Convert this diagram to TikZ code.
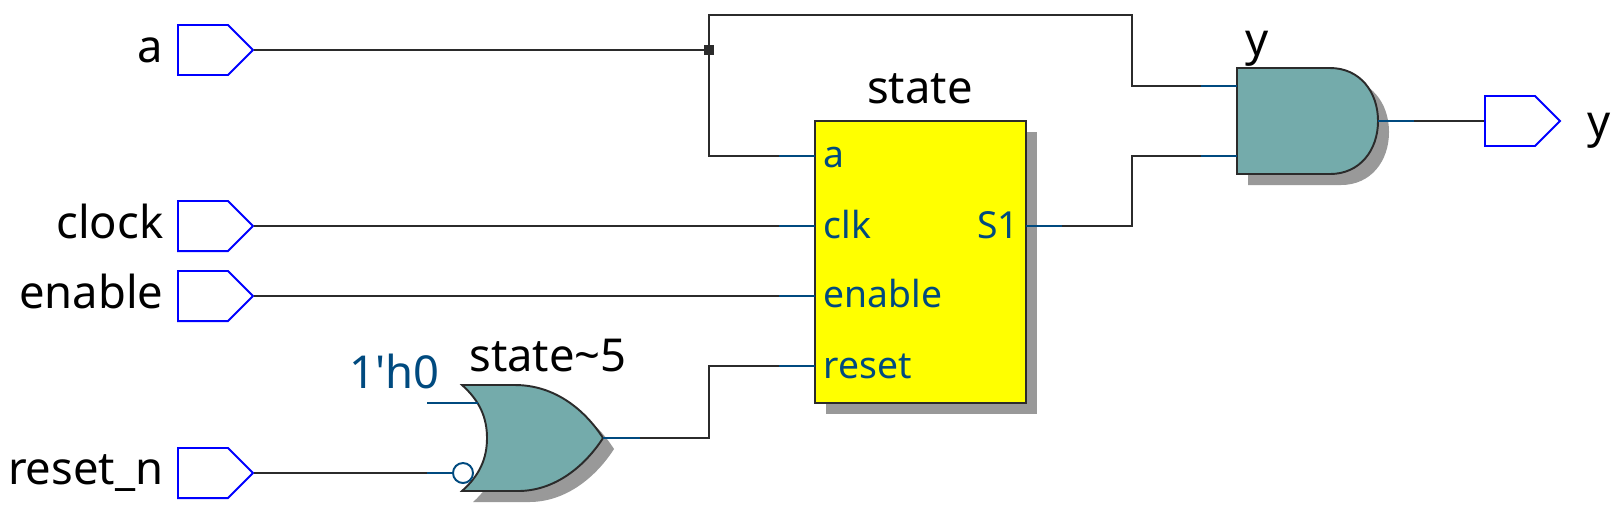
\documentclass[tikz,border=0pt]{standalone}
\usepackage{fontspec}
\setmainfont{Noto Sans}
\usetikzlibrary{shapes.symbols}
\definecolor{gatefill}{HTML}{74ABAB}
\definecolor{stubblue}{HTML}{004A7F}
\definecolor{wiregray}{HTML}{2B2B2B}
\definecolor{shadowgray}{HTML}{999999}
\definecolor{blockyellow}{HTML}{FFFF00}
\definecolor{pinblue}{HTML}{0000FF}
\def\andpath{(1237,68) -- (1330,68) .. controls (1360,68) and (1378,92) .. (1378,121) .. controls (1378,150) and (1360,174) .. (1330,174) -- (1237,174) -- cycle}
\def\orpath{(462,385) -- (515,385) .. controls (555,385) and (585,410) .. (603,438) .. controls (585,466) and (555,491) .. (518,491) -- (462,491) .. controls (480,475) and (487,458) .. (487,438) .. controls (487,418) and (480,401) .. (462,385) -- cycle}
\tikzset{
	pinbox/.style={signal, signal to=east, signal pointer angle=90, draw=pinblue, line width=0.55pt, minimum width=0.75cm, minimum height=0.5cm, inner sep=0pt, anchor=west},
	wire/.style={line width=0.5pt, color=wiregray},
	stub/.style={line width=0.5pt, color=stubblue},
	gate/.style={fill=gatefill, draw=wiregray, line width=0.55pt},
	label/.style={font=\fontsize{12.9}{15}\selectfont, inner sep=0pt},
	portlabel/.style={font=\fontsize{10.6}{13}\selectfont, color=stubblue, inner sep=0pt},
}

\begin{document}
\begin{tikzpicture}[x=0.01cm, y=-0.01cm]
	\useasboundingbox (0,0) rectangle (1619,514);

	%%%%% SHADOWS %%%%%
	\fill[shadowgray] (826,132) rectangle (1037,414);
	\fill[shadowgray, shift={(11,11)}] \andpath;
	\fill[shadowgray, shift={(11,11)}] \orpath;

	%%%%% BLOCKS %%%%%
	\node[draw=wiregray, fill=blockyellow, line width=0.55pt, minimum width=2.11cm, minimum height=2.82cm, inner sep=0pt] (state) at (920.5,262) {};
	\draw[gate] \andpath;
	\draw[gate] \orpath;
	\node[pinbox] (pina) at (177,50) {};
	\node[pinbox] (pinclock) at (177,226) {};
	\node[pinbox] (pinenable) at (177,296) {};
	\node[pinbox] (pinreset) at (177,473) {};
	\node[pinbox] (piny) at (1484,121) {};
	\node[circle, draw=stubblue, line width=0.55pt, fill=white, minimum size=0.2cm, inner sep=0pt] (inv) at (463,473) {};

	%%%%% PORTS %%%%%
	\coordinate (junction) at (709,50);
	\coordinate (statea) at (815,156);
	\coordinate (stateclk) at (815,226);
	\coordinate (stateen) at (815,296);
	\coordinate (staterst) at (815,366);
	\coordinate (states) at (1026,226);
	\coordinate (stateastub) at (779,156);
	\coordinate (stateclkstub) at (779,226);
	\coordinate (stateenstub) at (779,296);
	\coordinate (staterststub) at (779,366);
	\coordinate (statesstub) at (1062,226);
	\coordinate (andone) at (1237,86);
	\coordinate (andtwo) at (1237,156);
	\coordinate (andonestub) at (1201,86);
	\coordinate (andtwostub) at (1201,156);
	\coordinate (andout) at (1378,121);
	\coordinate (andoutstub) at (1414,121);
	\coordinate (orzero) at (427,403);
	\coordinate (orone) at (478,403);
	\coordinate (ortwostub) at (427,473);
	\coordinate (orout) at (603,438);
	\coordinate (oroutstub) at (640,438);

	%%%%% WIRES %%%%%
	\draw[wire] (pina.east) -- (junction);
	\fill[wiregray] (704,45) rectangle (714,55);
	\draw[wire] (junction) -- (709,156) -- (stateastub);
	\draw[wire] (junction) -- (709,15) -- (1132,15) -- (1132,86) -- (andonestub);
	\draw[wire] (pinclock.east) -- (stateclkstub);
	\draw[wire] (pinenable.east) -- (stateenstub);
	\draw[wire] (pinreset.east) -- (ortwostub);
	\draw[wire] (oroutstub) -- (709,438) -- (709,366) -- (staterststub);
	\draw[wire] (statesstub) -- (1132,226) -- (1132,156) -- (andtwostub);
	\draw[wire] (andoutstub) -- (piny.west);

	\draw[stub] (stateastub) -- (statea);
	\draw[stub] (stateclkstub) -- (stateclk);
	\draw[stub] (stateenstub) -- (stateen);
	\draw[stub] (staterststub) -- (staterst);
	\draw[stub] (states) -- (statesstub);
	\draw[stub] (andonestub) -- (andone);
	\draw[stub] (andtwostub) -- (andtwo);
	\draw[stub] (andout) -- (andoutstub);
	\draw[stub] (orzero) -- (orone);
	\draw[stub] (ortwostub) -- (inv.west);
	\draw[stub] (orout) -- (oroutstub);

	%%%%% TEXT %%%%%
	\node[label, anchor=base east] (texta) at (164,62) {a};
	\node[label, anchor=base east] (textclock) at (164,238) {clock};
	\node[label, anchor=base east] (textenable) at (164,308) {enable};
	\node[label, anchor=base east] (textreset) at (164,484) {reset\_n};
	\node[label, anchor=base west] (texty) at (1587,137) {y};
	\node[label, anchor=base] (textstate) at (920,103) {state};
	\node[label, anchor=base] (textstatefive) at (548,371) {state\textasciitilde 5};
	\node[label, anchor=base west] (textgate) at (1245,55) {y};
	\node[label, anchor=base east, color=stubblue] (textzero) at (440,388) {1\textquotesingle h0};

	\node[portlabel, anchor=base west] (porta) at (823,167) {a};
	\node[portlabel, anchor=base west] (portclk) at (823,238) {clk};
	\node[portlabel, anchor=base west] (porten) at (823,307) {enable};
	\node[portlabel, anchor=base west] (portrst) at (823,378) {reset};
	\node[portlabel, anchor=base east] (ports) at (1020,238) {S1};
\end{tikzpicture}
\end{document}
